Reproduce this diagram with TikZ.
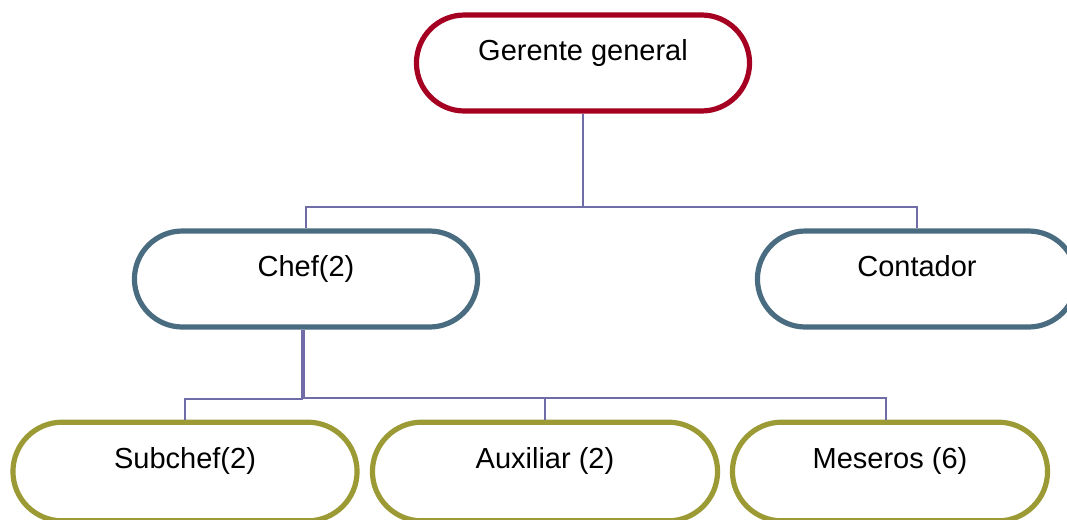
\documentclass[tikz,border=0pt]{standalone}
\usepackage{fontspec}
\setmainfont{Liberation Sans}
\usepackage{xcolor}
\usepackage{tikz}
\usetikzlibrary{calc,positioning,shapes.misc}

\definecolor{boss}{RGB}{165,0,33}
\definecolor{mid}{RGB}{74,108,128}
\definecolor{staff}{RGB}{155,154,52}
\definecolor{link}{RGB}{112,108,168}

\tikzset{
  post/.style={rounded rectangle, draw, fill=white, line width=3.9pt,
    minimum height=72pt, text height=15.75pt, text depth=19.6pt,
    font=\fontsize{21.75pt}{26pt}\selectfont},
  wire/.style={draw=link, line width=1.1pt}
}

\begin{document}
\begin{tikzpicture}[x=0.75pt,y=-0.75pt]
  \useasboundingbox (0,0) rectangle (1067,519);
  % top level
  \node [post, draw=boss, minimum width=256.5pt] (gerente) at (583,63) {Gerente general};
  % second level
  \node [post, draw=mid, minimum width=264pt] (chef) at (306,279) {Chef(2)};
  \node [post, draw=mid, minimum width=246pt] (contador) at (917,279) {Contador};
  % third level
  \node [post, draw=staff, minimum width=264.75pt, minimum height=74pt] (subchef) at (185,471.5) {Subchef(2)};
  \node [post, draw=staff, minimum width=265.5pt, minimum height=74pt] (auxiliar) at (545,471.5) {Auxiliar (2)};
  \node [post, draw=staff, minimum width=243pt, minimum height=74pt] (meseros) at (890,471.5) {Meseros (6)};

  \coordinate (tier1) at (583,207);
  \coordinate (dropA) at (302,399);
  \coordinate (dropB) at (304,398);

  \draw [wire] (gerente.south) -- (tier1) -| (chef.north);
  \draw [wire] (tier1) -| (contador.north);
  \draw [wire] (chef.south -| dropA) -- (dropA) -| (subchef.north);
  \draw [wire] (chef.south -| dropB) -- (dropB) -| (auxiliar.north);
  \draw [wire] (dropB) -| ([xshift=-3pt]meseros.north);
\end{tikzpicture}
\end{document}
